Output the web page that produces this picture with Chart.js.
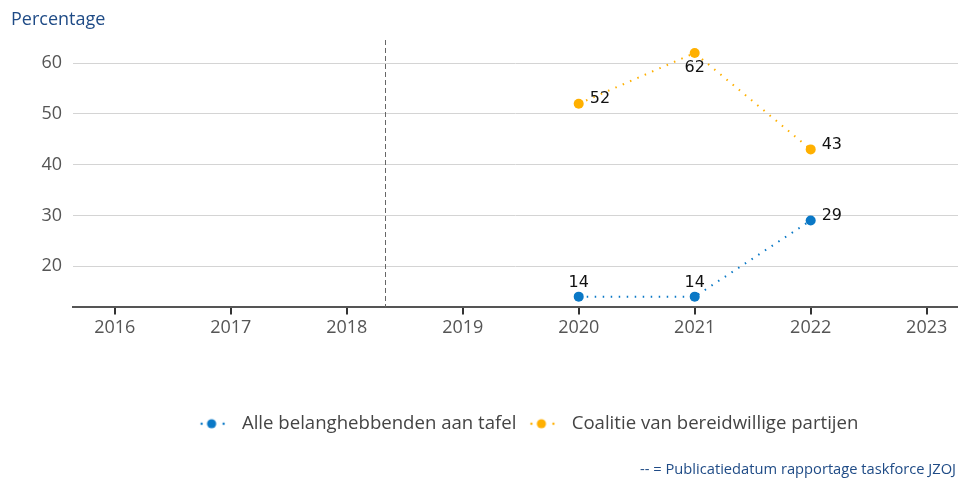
<!DOCTYPE html>
<html>
<head>
<meta charset="utf-8">
<script src="https://cdn.jsdelivr.net/npm/chart.js@4/dist/chart.umd.min.js"></script>
<style>
  html, body { margin: 0; padding: 0; background: #fff; overflow: hidden; }
  #wrap { position: relative; width: 958px; height: 478px; overflow: hidden; }
  .note { position: absolute; font-family: 'Open Sans', sans-serif; color: #1f4b86; white-space: nowrap; }
  #ytitle { left: 11px; top: 6px; font-size: 18px; line-height: 24px; }
  #footnote { left: 640px; top: 458px; font-size: 14.7px; line-height: 20px; }
</style>
</head>
<body>
<div id="wrap">
  <canvas id="chart" width="958" height="478"></canvas>
  <div class="note" id="ytitle">Percentage</div>
  <div class="note" id="footnote">-- = Publicatiedatum rapportage taskforce JZOJ</div>
</div>
<script>
// data
const years = [2020, 2021, 2022];
const alleBelanghebbenden = [14, 14, 29];
const coalitieBereidwilligen = [52, 62, 43];
const xTickYears = [2016, 2017, 2018, 2019, 2020, 2021, 2022, 2023];
const yTickValues = [20, 30, 40, 50, 60];
const publicatieDatum = 2018.33;  // dashed line: publication date report

const blue = '#0a78c6';
const orange = '#ffb000';

// little legend marker: dot - big dot - dot
function makeMarker(color) {
    const c = document.createElement('canvas');
    c.width = 34; c.height = 12;
    const g = c.getContext('2d');
    g.fillStyle = color;
    [[3, 1.2], [13, 4.6], [25, 1.2]].forEach(([x, r]) => {
        g.beginPath(); g.arc(x, 6, r, 0, Math.PI * 2); g.fill();
    });
    return c;
}
const markers = [makeMarker(blue), makeMarker(orange)];

// value labels next to the points
const valueLabels = {
    id: 'valueLabels',
    afterDatasetsDraw(chart) {
        const ctx = chart.ctx;
        ctx.save();
        ctx.font = '16px "DejaVu Sans", sans-serif';
        ctx.fillStyle = '#111';
        ctx.textBaseline = 'middle';
        chart.data.datasets.forEach((ds, i) => {
            chart.getDatasetMeta(i).data.forEach((pt, j) => {
                const place = ds.labelPlacement[j];
                const txt = String(ds.data[j].y);
                if (place === 'right') {
                    ctx.textAlign = 'left';
                    ctx.fillText(txt, pt.x + 11, pt.y - 5);
                } else if (place === 'below') {
                    ctx.textAlign = 'center';
                    ctx.fillText(txt, pt.x, pt.y + 15);
                } else {
                    ctx.textAlign = 'center';
                    ctx.fillText(txt, pt.x, pt.y - 14);
                }
            });
        });
        ctx.restore();
    }
};

// dashed vertical line for the publication date
const pubLine = {
    id: 'pubLine',
    beforeDatasetsDraw(chart) {
        const {ctx, chartArea, scales} = chart;
        const x = Math.round(scales.x.getPixelForValue(publicatieDatum)) + 0.5;
        ctx.save();
        ctx.strokeStyle = '#666';
        ctx.lineWidth = 1;
        ctx.setLineDash([5, 3]);
        ctx.beginPath();
        ctx.moveTo(x, chartArea.top);
        ctx.lineTo(x, chartArea.bottom);
        ctx.stroke();
        ctx.restore();
    }
};

// legend sits a bit right of the plot centre in the original
const legendShift = {
    id: 'legendShift',
    afterLayout(chart) {
        chart.legend.left += 13;
        chart.legend.right += 13;
    }
};

const tickFont = { family: "'Open Sans', sans-serif", size: 18 };

new Chart(document.getElementById('chart'), {
    type: 'line',
    data: {
        datasets: [{
            label: 'Alle belanghebbenden aan tafel',
            data: years.map((y, i) => ({ x: y, y: alleBelanghebbenden[i] })),
            borderColor: blue,
            backgroundColor: blue,
            borderWidth: 2,
            borderDash: [1.5, 6.5],
            pointRadius: 5,
            pointHoverRadius: 5,
            pointBorderWidth: 0,
            labelPlacement: ['above', 'above', 'right'],
        }, {
            label: 'Coalitie van bereidwillige partijen',
            data: years.map((y, i) => ({ x: y, y: coalitieBereidwilligen[i] })),
            borderColor: orange,
            backgroundColor: orange,
            borderWidth: 2,
            borderDash: [1.5, 6.5],
            pointRadius: 5,
            pointHoverRadius: 5,
            pointBorderWidth: 0,
            labelPlacement: ['right', 'below', 'right'],
        }]
    },
    options: {
        responsive: false,
        animation: false,
        layout: { autoPadding: false, padding: { top: 40, right: 0, bottom: 35, left: 0 } },
        scales: {
            x: {
                type: 'linear',
                min: 2015.64,
                max: 2023.27,
                afterBuildTicks: s => { s.ticks = xTickYears.map(v => ({ value: v })); },
                afterFit: s => { s.height = 95; s.paddingLeft = 0; s.paddingRight = 0; },
                ticks: {
                    font: tickFont,
                    color: '#555',
                    padding: 3,
                    maxRotation: 0,
                    callback: v => String(v)
                },
                grid: { drawOnChartArea: false, drawTicks: true, tickLength: 7, color: '#333', lineWidth: 2 },
                border: { display: true, color: '#555', width: 2 }
            },
            y: {
                min: 11.88,
                max: 64.55,
                afterBuildTicks: s => { s.ticks = yTickValues.map(v => ({ value: v })); },
                afterFit: s => { s.width = 73; },
                ticks: { font: tickFont, color: '#555', padding: 11 },
                grid: { color: '#d4d4d4', lineWidth: 1, drawTicks: false },
                border: { display: false }
            }
        },
        plugins: {
            tooltip: { enabled: false },
            legend: {
                position: 'bottom',
                fullSize: false,
                labels: {
                    usePointStyle: true,
                    pointStyleWidth: 34,
                    padding: 12,
                    color: '#444',
                    font: { family: "'Open Sans', sans-serif", size: 18.6 },
                    generateLabels: chart =>
                        Chart.defaults.plugins.legend.labels.generateLabels(chart)
                            .map((l, i) => ({ ...l, pointStyle: markers[i] }))
                }
            }
        }
    },
    plugins: [pubLine, valueLabels, legendShift]
});
</script>
</body>
</html>
